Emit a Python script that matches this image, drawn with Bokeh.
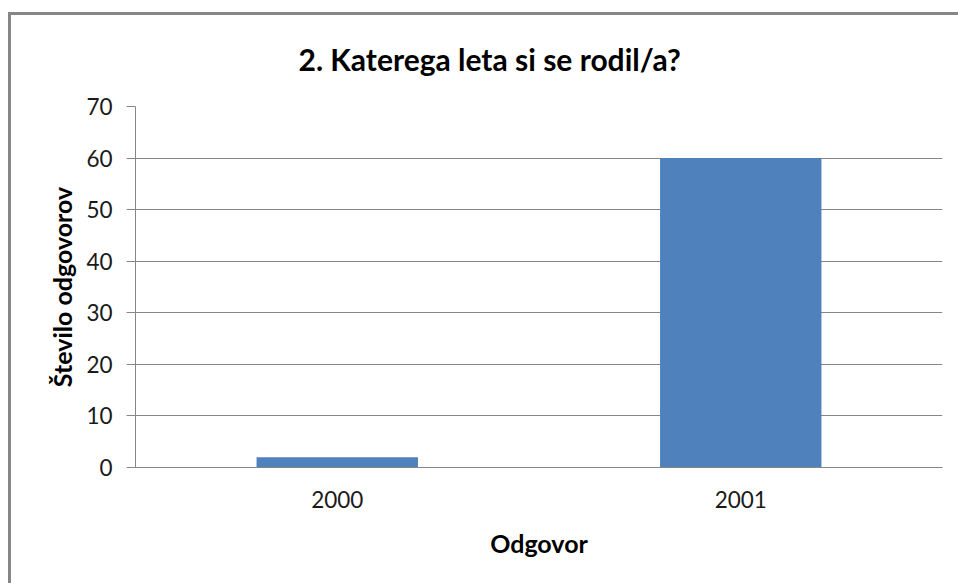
from bokeh.plotting import figure
from bokeh.models import FactorRange, Range1d, SingleIntervalTicker, ColumnDataSource
from bokeh.embed import file_html
from bokeh.resources import INLINE

# Data
categories = ["2000", "2001"]
counts = [2, 60]
title_text = "2. Katerega leta si se rodil/a?"
x_label = "Odgovor"
y_label = "Število odgovorov"

source = ColumnDataSource(data=dict(cat=categories, val=counts))

grey = "#868686"

p = figure(
    width=958, height=583,
    x_range=FactorRange(*categories, range_padding=0),
    y_range=Range1d(0, 70),
    output_backend="svg", toolbar_location=None,
    min_border_left=135, min_border_right=16,
    min_border_top=106, min_border_bottom=116,
)

p.vbar(x="cat", top="val", width=0.4, source=source,
       fill_color="#4F81BD", line_color=None)

# Title
p.title.text = title_text
p.title.align = "left"
p.title.offset = 163
p.title.text_font = "Lato"
p.title.text_font_size = "30px"
p.title.text_font_style = "bold"
p.title.text_color = "#000000"
p.title.standoff = 60

p.outline_line_color = None
p.background_fill_color = "white"
p.border_fill_color = None

# Outer chart border (drawn as CSS shadow behind the transparent border area)
p.styles = {"box-shadow": f"inset 8px 12px 0 0 white, inset 11px 15px 0 0 {grey}"}

# Y axis
p.yaxis.ticker = SingleIntervalTicker(interval=10)
p.yaxis.axis_line_color = grey
p.yaxis.major_tick_line_color = grey
p.yaxis.major_tick_in = 0
p.yaxis.major_tick_out = 9
p.yaxis.minor_tick_line_color = None
p.yaxis.major_label_standoff = 14
p.yaxis.major_label_text_font = "Lato"
p.yaxis.major_label_text_font_size = "22.5px"
p.yaxis.major_label_text_color = "#1a1a1a"
p.yaxis.axis_label = y_label
p.yaxis.axis_label_text_font = "Lato"
p.yaxis.axis_label_text_font_size = "25px"
p.yaxis.axis_label_text_font_style = "bold"
p.yaxis.axis_label_text_color = "#000000"
p.yaxis.axis_label_standoff = 6

# X axis
p.xaxis.axis_line_color = grey
p.xaxis.major_tick_line_color = None
p.xaxis.major_tick_in = 0
p.xaxis.major_tick_out = 0
p.xaxis.minor_tick_line_color = None
p.xaxis.major_label_standoff = 23
p.xaxis.major_label_text_font = "Lato"
p.xaxis.major_label_text_font_size = "22.5px"
p.xaxis.major_label_text_color = "#1a1a1a"
p.xaxis.axis_label = x_label
p.xaxis.axis_label_text_font = "Lato"
p.xaxis.axis_label_text_font_size = "25px"
p.xaxis.axis_label_text_font_style = "bold"
p.xaxis.axis_label_text_color = "#000000"
p.xaxis.axis_label_standoff = 17

p.xgrid.grid_line_color = None
p.ygrid.grid_line_color = grey
p.ygrid.grid_line_width = 1

open("out.html", "w").write(file_html(p, INLINE))
